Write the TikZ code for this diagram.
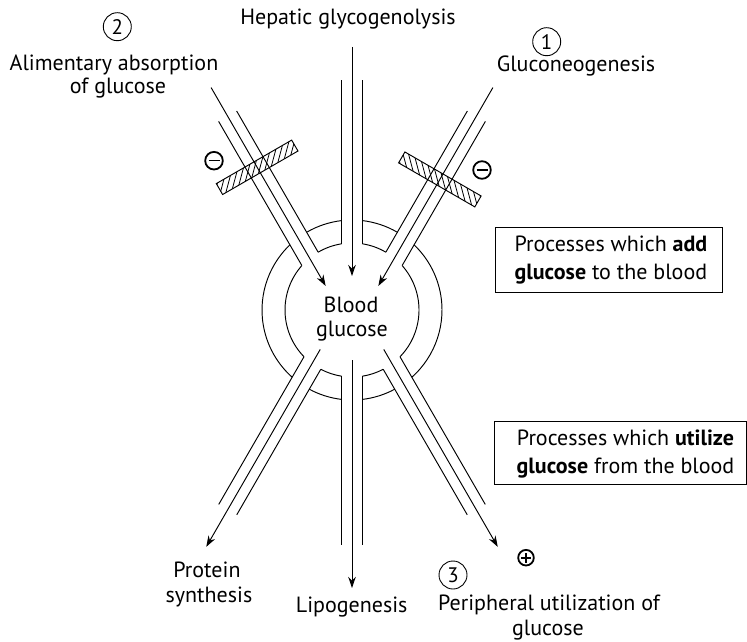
\documentclass[tikz,border=0pt]{standalone}
\usepackage{fontspec}
\setmainfont{PT Sans}
\usetikzlibrary{arrows.meta,calc}
\begin{document}
\begin{tikzpicture}[x=1pt,y=1pt,line width=0.95pt,
  lbl/.style={font=\fontsize{22}{26}\selectfont, inner sep=0pt, anchor=base},
  flow/.style={-{Stealth[length=11pt,width=7.5pt]}},
  numc/.style={draw, circle, line width=0.9pt, minimum size=28pt, inner sep=0pt, font=\fontsize{21}{24}\selectfont},
  sign/.style={line width=1.8pt},
  boxr/.style={draw, line width=0.9pt, inner sep=0pt}]
\useasboundingbox (0,0) rectangle (747,641);
\coordinate (C) at (352,331);
\def\rr{67}\def\RR{90}\def\ww{10.4}
% pipes: walls and centre flow lines
\foreach \th/\s/\Lw/\La/\Lb/\nm in {90/0/230/263/34/top, 120/10.8/230/263/34/ul, 60/-10.8/230/263/34/ur, 270/0/235/50/278/bot, 240/-7.8/235/50/278/ll, 300/7.8/235/50/278/lr}{
  \foreach \k in {-1,1}{
    \pgfmathsetmacro\toff{\s+\k*\ww}
    \pgfmathsetmacro\aw{\th+asin(\toff/\rr)}
    \pgfmathsetmacro\lw{\Lw-sqrt(\rr*\rr-\toff*\toff)}
    \draw ($(C)+(\aw:\rr)$) -- ++(\th:\lw);
  }
  \coordinate (\nm-a) at ($(C)+(\th+90:\s)+(\th:\La)$);
  \coordinate (\nm-b) at ($(C)+(\th+90:\s)+(\th:\Lb)$);
  \draw[flow] (\nm-a) -- (\nm-b);
}
% ring arcs between pipes
\foreach \ta/\sa/\tb/\sb in {90/0/120/10.8, 120/10.8/240/-7.8, 240/-7.8/270/0, 270/0/300/7.8, 300/7.8/420/-10.8, 60/-10.8/90/0}{
  \foreach \rad in {\rr,\RR}{
    \pgfmathsetmacro\angs{\ta+asin((\sa+\ww)/\rad)}
    \pgfmathsetmacro\ange{\tb+asin((\sb-\ww)/\rad)}
    \draw ($(C)+(\angs:\rad)$) arc[start angle=\angs, end angle=\ange, radius=\rad];
  }
}
% hatched blocks
\coordinate (hl) at ($(C)+(210:10.8)+(120:171)$);
\coordinate (hr) at ($(C)+(150:-10.8)+(60:157)$);
\begin{scope}[shift={(hl)},rotate=30]
  \draw (-43.5,-6.3) rectangle (43.5,6.3);
  \clip (-43.5,-6.3) rectangle (43.5,6.3);
  \foreach \x in {-56,-48.5,...,56} \draw[line width=0.8pt] (\x-6.3,-6.3) -- (\x+6.3,6.3);
\end{scope}
\begin{scope}[shift={(hr)},rotate=-30]
  \draw (-44,-6.3) rectangle (44,6.3);
  \clip (-44,-6.3) rectangle (44,6.3);
  \foreach \x in {-56,-48.5,...,56} \draw[line width=0.8pt] (\x+6.3,-6.3) -- (\x-6.3,6.3);
\end{scope}
% signs
\coordinate (m1) at (214,480.3);
\coordinate (m2) at (482,471);
\coordinate (p1) at (526,83.3);
\draw[sign] (m1) circle (8.8);
\draw[line width=1.6pt] ($(m1)+(-5.5,0)$) -- ($(m1)+(5.5,0)$);
\draw[sign] (m2) circle (8.8);
\draw[line width=1.6pt] ($(m2)+(-5.5,0)$) -- ($(m2)+(5.5,0)$);
\draw[sign] (p1) circle (7.8);
\draw[line width=1.6pt] ($(p1)+(-4.8,0)$) -- ($(p1)+(4.8,0)$) ($(p1)+(0,-4.8)$) -- ($(p1)+(0,4.8)$);
% circled numbers
\node[numc] (n2) at (117.3,614.3) {2};
\node[numc] (n1) at (546.7,599.3) {1};
\node[numc] (n3) at (453,66) {3};
% labels
\node[lbl] (hep) at (348,616) {Hepatic glycogenolysis};
\node[lbl] (alim1) at (114,570) {Alimentary absorption};
\node[lbl] (alim2) at (118,547) {of glucose};
\node[lbl] (gluc) at (576,569) {Gluconeogenesis};
\node[lbl] (bl1) at (351,329) {Blood};
\node[lbl] (bl2) at (352,305) {glucose};
\node[lbl] (prot1) at (207,64) {Protein};
\node[lbl] (prot2) at (209,38.3) {synthesis};
\node[lbl] (lipo) at (351.7,28.3) {Lipogenesis};
\node[lbl] (peri1) at (549,31) {Peripheral utilization of};
\node[lbl] (peri2) at (548,6) {glucose};
% boxes
\node[boxr, minimum width=226.6pt, minimum height=65pt] (box1) at (609,381.2) {};
\node[lbl] (b1l1) at (610.9,389.3) {Processes which \textbf{add}};
\node[lbl] (b1l2) at (610.9,361) {\textbf{glucose} to the blood};
\node[boxr, minimum width=252pt, minimum height=63pt] (box2) at (620,188.5) {};
\node[lbl] (b2l1) at (625.5,196) {Processes which \textbf{utilize}};
\node[lbl] (b2l2) at (625.5,167.5) {\textbf{glucose} from the blood};
\end{tikzpicture}
\end{document}
